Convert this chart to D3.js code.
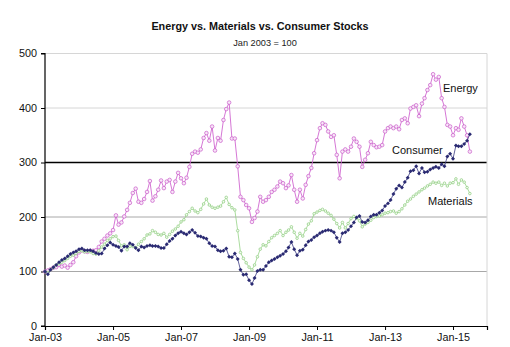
<!DOCTYPE html>
<html>
<head>
<meta charset="utf-8">
<script src="https://cdn.jsdelivr.net/npm/d3@7"></script>
<style>
  html, body { margin: 0; padding: 0; background: #fff; }
  svg { display: block; font-family: Arial, "Liberation Sans", sans-serif; }
</style>
</head>
<body>
<div id="chart"></div>
<script>
// --- Data: monthly index levels, Jan 2003 = 100 ---
const startMonth = new Date(2003, 0, 1);
const endMonth = new Date(2015, 7, 1); // exclusive -> last point Jul 2015

const energy = [
    100, 102, 104, 107, 108, 112, 109, 111, 107, 112, 117, 128,
    135, 139, 137, 136, 138, 138, 139, 145, 155, 160, 166, 170,
    176, 203, 186, 190, 201, 213, 226, 244, 252, 228, 226, 233,
    246, 266, 230, 238, 250, 267, 253, 265, 268, 246, 265, 281,
    271, 262, 272, 292, 316, 320, 318, 324, 345, 354, 340, 366,
    322, 345, 340, 378, 398, 410, 344, 344, 293, 237, 231, 222,
    216, 191, 198, 210, 237, 228, 231, 237, 246, 250, 256, 265,
    262, 253, 258, 277, 250, 228, 250, 234, 259, 275, 290, 317,
    341, 363, 372, 369, 357, 347, 350, 314, 271, 320, 324, 320,
    329, 344, 338, 329, 292, 305, 317, 338, 332, 328, 329, 332,
    357, 363, 366, 363, 366, 361, 378, 381, 372, 399, 402, 405,
    385, 408, 418, 433, 442, 462, 452, 457, 418, 402, 369, 366,
    350, 363, 360, 381, 366, 350, 320
];

const materials = [
    100, 98, 103, 107, 112, 114, 117, 120, 124, 128, 130, 133,
    137, 138, 136, 137, 136, 133, 132, 138, 145, 150, 157, 160,
    164, 165, 157, 147, 149, 140, 146, 146, 144, 150, 155, 160,
    167, 169, 175, 172, 168, 167, 170, 163, 168, 174, 178, 183,
    191, 195, 204, 210, 216, 211, 208, 214, 224, 233, 222, 218,
    216, 218, 220, 228, 236, 223, 217, 213, 175, 135, 124, 116,
    108, 103, 112, 127, 141, 149, 147, 155, 162, 166, 170, 175,
    166, 172, 176, 182, 172, 161, 170, 165, 177, 187, 193, 206,
    209, 212, 214, 211, 207, 203, 196, 188, 180, 190, 180, 188,
    197, 201, 198, 193, 182, 187, 190, 194, 199, 201, 202, 204,
    207, 208, 210, 211, 207, 210, 215, 222, 229, 233, 238, 242,
    246, 250, 253, 257, 260, 264, 262, 264, 258, 262, 257, 262,
    263, 270, 260, 268, 264, 254, 243
];

const consumer = [
    100, 95, 103, 108, 112, 117, 121, 124, 128, 132, 135, 137,
    141, 142, 139, 139, 139, 137, 134, 132, 133, 142, 148, 153,
    149, 147, 145, 138, 146, 146, 152, 149, 143, 139, 146, 144,
    147, 148, 147, 147, 146, 143, 143, 150, 156, 160, 166, 170,
    173, 170, 168, 172, 176, 171, 165, 164, 162, 160, 152, 147,
    146, 139, 137, 138, 142, 127, 126, 133, 123, 103, 94, 95,
    84, 77, 88, 101, 103, 103, 110, 117, 120, 123, 126, 129,
    132, 137, 144, 154, 141, 130, 138, 140, 148, 155, 158, 163,
    166, 170, 173, 175, 176, 175, 172, 162, 154, 170, 172, 176,
    183, 190, 199, 202, 191, 190, 194, 201, 204, 204, 208, 212,
    220, 225, 231, 242, 252, 258, 254, 264, 272, 284, 286, 293,
    280, 290, 282, 283, 287, 290, 292, 290, 297, 293, 311, 316,
    307, 331, 330, 330, 334, 340, 352
];

const yTicks = [0, 100, 200, 300, 400, 500];
const xTickYears = [2003, 2005, 2007, 2009, 2011, 2013, 2015];

const chartTitle = 'Energy vs. Materials vs. Consumer Stocks';
const chartSubtitle = 'Jan 2003 = 100';

// --- Layout ---
const width = 510, height = 347;
const plot = { left: 45, right: 487, top: 53.5, bottom: 326 };

const months = d3.timeMonth.range(startMonth, endMonth);

const x = d3.scaleTime()
    .domain([startMonth, new Date(2016, 0, 1)])
    .range([plot.left, plot.right]);

const y = d3.scaleLinear()
    .domain([0, 500])
    .range([plot.bottom, plot.top]);

const svg = d3.select('#chart')
    .append('svg')
    .attr('width', width)
    .attr('height', height);

// Titles
svg.append('text')
    .attr('x', 260).attr('y', 29.5)
    .attr('text-anchor', 'middle')
    .style('font-size', '10.8px')
    .style('font-weight', 'bold')
    .attr('fill', '#111')
    .text(chartTitle);

svg.append('text')
    .attr('x', 265).attr('y', 46)
    .attr('text-anchor', 'middle')
    .style('font-size', '9.2px')
    .attr('fill', '#222')
    .text(chartSubtitle);

// Horizontal gridlines (300 drawn as a solid black reference line)
const gridColor = v => v === 300 ? '#000' : (v >= 400 ? '#d6d6d6' : '#a8a8a8');

svg.append('g')
    .selectAll('line')
    .data(yTicks.filter(v => v > 0))
    .join('line')
    .attr('x1', plot.left)
    .attr('x2', plot.right)
    .attr('y1', d => y(d))
    .attr('y2', d => y(d))
    .attr('stroke', gridColor)
    .attr('stroke-width', d => d === 300 ? 1.3 : 1);

// Right border of the plot area
svg.append('line')
    .attr('x1', plot.right).attr('x2', plot.right)
    .attr('y1', plot.top).attr('y2', plot.bottom)
    .attr('stroke', '#d6d6d6');

// Axes
const yAxis = d3.axisLeft(y)
    .tickValues(yTicks)
    .tickSize(4)
    .tickPadding(4)
    .tickFormat(d3.format('d'));

const xAxis = d3.axisBottom(x)
    .tickValues(xTickYears.map(yr => new Date(yr, 0, 1)))
    .tickSize(4)
    .tickPadding(3)
    .tickFormat(d3.timeFormat('%b-%y'));

const gy = svg.append('g')
    .attr('transform', `translate(${plot.left},0)`)
    .call(yAxis);

const gx = svg.append('g')
    .attr('transform', `translate(0,${plot.bottom})`)
    .call(xAxis);

[gx, gy].forEach(g => {
    g.select('.domain').attr('stroke', '#000').attr('stroke-width', 1.2);
    g.selectAll('.tick line').attr('stroke', '#000');
    g.selectAll('.tick text')
        .attr('fill', '#111')
        .style('font-size', '10.8px')
        .style('font-family', 'Arial, "Liberation Sans", sans-serif');
});
gy.select('.domain').attr('d', `M-4,${plot.bottom}H0V${plot.top}H-4`);

// --- Series ---
const series = [
    { name: 'Energy', values: energy, line: '#d068d0', marker: 'circle', stroke: '#c85ac8', fill: '#f8e6f8', size: 1.8, lw: 0.9 },
    { name: 'Materials', values: materials, line: '#95d386', marker: 'circle', stroke: '#8ccb7c', fill: '#f4fbf2', size: 1.3, lw: 0.8 },
    { name: 'Consumer', values: consumer, line: '#3a3a82', marker: 'diamond', stroke: '#2a2a72', fill: '#2a2a72', size: 8, lw: 0.8 }
];

const line = d3.line()
    .x((d, i) => x(months[i]))
    .y(d => y(d));

series.forEach(s => {
    const g = svg.append('g').attr('class', 'series');

    g.append('path')
        .datum(s.values)
        .attr('fill', 'none')
        .attr('stroke', s.line)
        .attr('stroke-width', s.lw)
        .attr('d', line);

    if (s.marker === 'circle') {
        g.selectAll('circle')
            .data(s.values)
            .join('circle')
            .attr('cx', (d, i) => x(months[i]))
            .attr('cy', d => y(d))
            .attr('r', s.size)
            .attr('fill', s.fill)
            .attr('stroke', s.stroke)
            .attr('stroke-width', 0.7);
    } else {
        // square turned 45 degrees -> small filled diamond
        const diamond = d3.symbol().type(d3.symbolSquare).size(s.size);
        g.selectAll('path.pt')
            .data(s.values)
            .join('path')
            .attr('class', 'pt')
            .attr('d', diamond)
            .attr('transform', (d, i) => `translate(${x(months[i])},${y(d)}) rotate(45)`)
            .attr('fill', s.fill);
    }
});

// Series labels
const labels = [
    { text: 'Energy', x: 443, y: 92 },
    { text: 'Consumer', x: 392, y: 154 },
    { text: 'Materials', x: 428, y: 205 }
];

svg.append('g')
    .selectAll('text')
    .data(labels)
    .join('text')
    .attr('x', d => d.x)
    .attr('y', d => d.y)
    .style('font-size', '11px')
    .attr('fill', '#111')
    .text(d => d.text);
</script>
</body>
</html>
